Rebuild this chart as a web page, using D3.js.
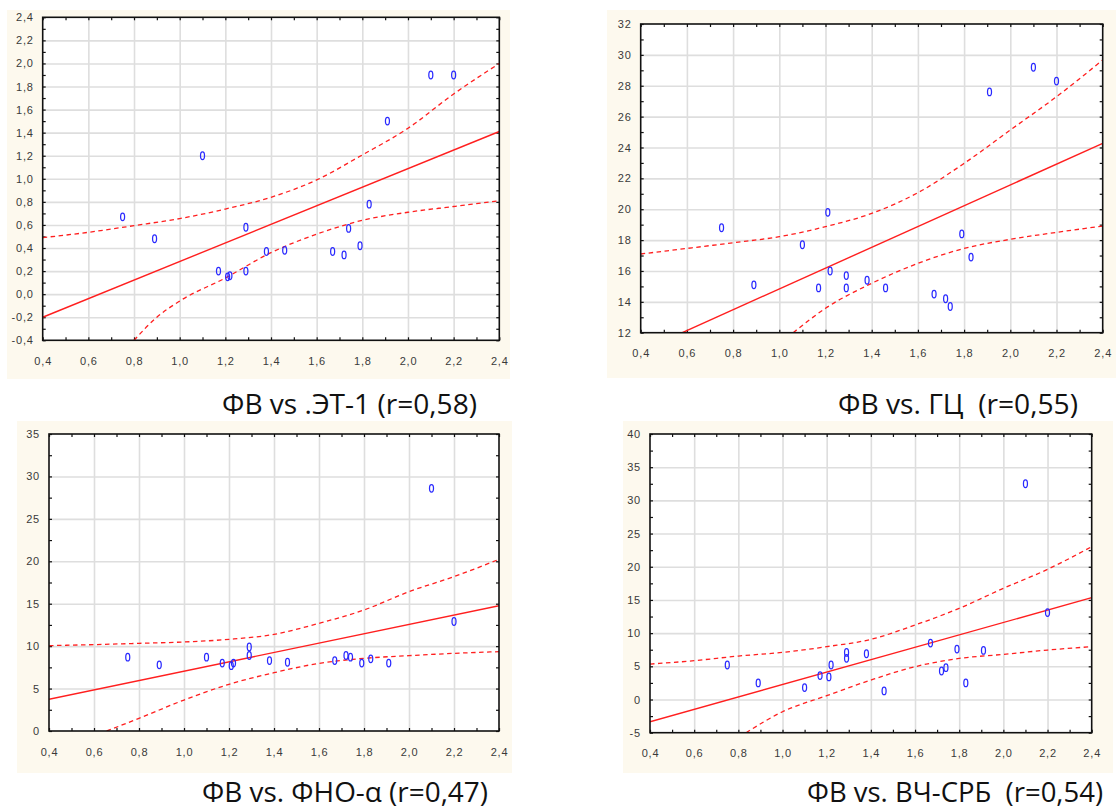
<!DOCTYPE html>
<html lang="ru">
  <head>
    <meta charset="UTF-8" />
    <title>ФВ correlations</title>
    <script src="https://cdn.jsdelivr.net/npm/d3@7"></script>
    <style>
      body {
        margin: 0;
        padding: 0;
        background: #fff;
      }
      .tick-label {
        font-family: "Liberation Sans Narrow", "Arial Narrow", "Liberation Sans", sans-serif;
        font-size: 11px;
        letter-spacing: 0.8px;
        fill: #3a3a3a;
      }
      .title {
        font-family: "Open Sans", "Noto Sans", sans-serif;
        font-size: 28px;
        fill: #111;
      }
    </style>
  </head>
  <body>
    <svg id="chart" width="1116" height="810"></svg>

    <script>
      // x values (ФВ) shared by all four panels
      const fvX = [0.75, 0.89, 1.10, 1.17, 1.21, 1.22, 1.29, 1.29, 1.38, 1.46, 1.67, 1.72, 1.74, 1.79, 1.83, 1.91, 2.10, 2.20];
      const fvTicks = [0.4, 0.6, 0.8, 1.0, 1.2, 1.4, 1.6, 1.8, 2.0, 2.2, 2.4];

      // panel 1: ЭТ-1
      const et1Y = [0.67, 0.48, 1.20, 0.20, 0.15, 0.16, 0.58, 0.20, 0.37, 0.38, 0.37, 0.34, 0.57, 0.42, 0.78, 1.50, 1.90, 1.90];
      const et1Ticks = [-0.4, -0.2, 0.0, 0.2, 0.4, 0.6, 0.8, 1.0, 1.2, 1.4, 1.6, 1.8, 2.0, 2.2, 2.4];
      const et1Fit = [-0.2, 1.41];
      const et1UpperX = [0.4, 0.6, 0.8, 1.0, 1.2, 1.4, 1.6, 1.8, 2.0, 2.2, 2.4];
      const et1Upper = [0.49, 0.536, 0.594, 0.655, 0.738, 0.84, 0.99, 1.207, 1.438, 1.735, 2.0];
      const et1LowerX = [0.8, 0.9, 1.0, 1.2, 1.4, 1.6, 1.8, 2.0, 2.2, 2.4];
      const et1Lower = [-0.4, -0.2, -0.06, 0.14, 0.36, 0.52, 0.64, 0.71, 0.76, 0.81];

      // panel 2: ГЦ
      const gcY = [18.8, 15.1, 17.7, 14.9, 19.8, 16.0, 15.7, 14.9, 15.4, 14.9, 14.5, 14.2, 13.7, 18.4, 16.9, 27.6, 29.2, 28.3];
      const gcTicks = [12, 14, 16, 18, 20, 22, 24, 26, 28, 30, 32];
      const gcFit = [10.79, 24.27];
      const gcUpperX = [0.4, 0.6, 0.8, 1.0, 1.2, 1.4, 1.6, 1.8, 2.0, 2.2, 2.4];
      const gcUpper = [17.1, 17.46, 17.83, 18.22, 18.87, 19.73, 21.07, 22.97, 25.13, 27.29, 29.67];
      const gcLowerX = [1.06, 1.2, 1.4, 1.6, 1.8, 2.0, 2.2, 2.4];
      const gcLower = [12.0, 13.58, 15.2, 16.49, 17.46, 18.05, 18.5, 18.91];

      // panel 3: ФНО-α
      const tnfY = [8.7, 7.8, 8.7, 8.0, 7.7, 8.0, 9.9, 8.9, 8.3, 8.1, 8.3, 8.9, 8.7, 8.0, 8.5, 8.0, 28.6, 12.9];
      const tnfTicks = [0, 5, 10, 15, 20, 25, 30, 35];
      const tnfFit = [3.74, 14.77];
      const tnfUpperX = [0.4, 0.6, 0.8, 1.0, 1.2, 1.4, 1.6, 1.8, 2.0, 2.2, 2.4];
      const tnfUpper = [10.06, 10.18, 10.33, 10.49, 10.8, 11.39, 12.69, 14.26, 16.42, 18.19, 20.23];
      const tnfLowerX = [0.656, 0.8, 1.0, 1.2, 1.4, 1.6, 1.8, 2.0, 2.2, 2.4];
      const tnfLower = [0.0, 1.49, 3.65, 5.5, 6.87, 7.97, 8.56, 8.88, 9.15, 9.35];

      // panel 4: ВЧ-СРБ
      const crpY = [5.2, 2.5, 1.8, 3.6, 3.4, 5.2, 7.1, 6.2, 6.9, 1.3, 8.5, 4.3, 4.8, 7.6, 2.5, 7.4, 32.5, 13.1];
      const crpTicks = [-5, 0, 5, 10, 15, 20, 25, 30, 35, 40];
      const crpFit = [-3.35, 15.34];
      const crpUpperX = [0.4, 0.6, 0.8, 1.0, 1.2, 1.4, 1.6, 1.8, 2.0, 2.2, 2.4];
      const crpUpper = [5.34, 5.85, 6.55, 7.1, 7.96, 9.06, 11.22, 13.73, 16.75, 19.61, 23.02];
      const crpLowerX = [0.835, 1.0, 1.2, 1.4, 1.6, 1.8, 2.0, 2.2, 2.4];
      const crpLower = [-5.0, -1.84, 0.57, 2.93, 4.94, 6.19, 6.8, 7.45, 7.96];

      const titles = ["ФВ vs .ЭТ-1 (r=0,58)", "ФВ vs. ГЦ  (r=0,55)", "ФВ vs. ФНО-α (r=0,47)", "ФВ vs. ВЧ-СРБ  (r=0,54)"];

      const panels = [
        { y: et1Y, ticks: et1Ticks, dec: 1, fit: et1Fit, ux: et1UpperX, u: et1Upper, lx: et1LowerX, l: et1Lower,
          bg: [7, 10, 510, 379], box: [42.7, 17.3, 499.3, 340.3], title: [222, 414, 255] },
        { y: gcY, ticks: gcTicks, dec: 0, fit: gcFit, ux: gcUpperX, u: gcUpper, lx: gcLowerX, l: gcLower,
          bg: [607, 10, 1116, 378], box: [640.7, 24, 1102.7, 332.7], title: [838, 414, 240] },
        { y: tnfY, ticks: tnfTicks, dec: 0, fit: tnfFit, ux: tnfUpperX, u: tnfUpper, lx: tnfLowerX, l: tnfLower,
          bg: [17, 421, 512, 773], box: [49, 434, 499, 731], title: [202, 802, 286] },
        { y: crpY, ticks: crpTicks, dec: 0, fit: crpFit, ux: crpUpperX, u: crpUpper, lx: crpLowerX, l: crpLower,
          bg: [623, 421, 1113, 773], box: [650, 434, 1091.7, 732.7], title: [807, 802, 296] },
      ];

      const svg = d3.select("#chart");
      const red = "#ff1f1f";

      function fmt(v, dec) {
        return v.toFixed(dec).replace(".", ",");
      }

      // minor ticks sit halfway between the major ones
      function withHalves(ticks) {
        const out = [];
        ticks.forEach((t, i) => {
          out.push(t);
          if (i < ticks.length - 1) out.push((t + ticks[i + 1]) / 2);
        });
        return out;
      }

      panels.forEach((p, i) => {
        const [l, t, r, b] = p.box;
        const g = svg.append("g");

        g.append("rect")
          .attr("x", p.bg[0])
          .attr("y", p.bg[1])
          .attr("width", p.bg[2] - p.bg[0])
          .attr("height", p.bg[3] - p.bg[1])
          .attr("fill", "#fdf9ee");

        g.append("rect")
          .attr("x", l).attr("y", t)
          .attr("width", r - l).attr("height", b - t)
          .attr("fill", "#fff");

        const x = d3.scaleLinear().domain([0.4, 2.4]).range([l, r]);
        const y = d3.scaleLinear()
          .domain([p.ticks[0], p.ticks[p.ticks.length - 1]])
          .range([b, t]);

        // grid
        g.append("g")
          .attr("transform", `translate(0,${b})`)
          .call(d3.axisBottom(x).tickValues(fvTicks.slice(1, -1)).tickSize(-(b - t)).tickFormat(""))
          .call((s) => s.select(".domain").remove())
          .selectAll("line").attr("stroke", "#dedede").attr("stroke-width", 1.6);
        g.append("g")
          .attr("transform", `translate(${l},0)`)
          .call(d3.axisLeft(y).tickValues(p.ticks.slice(1, -1)).tickSize(-(r - l)).tickFormat(""))
          .call((s) => s.select(".domain").remove())
          .selectAll("line").attr("stroke", "#dedede").attr("stroke-width", 1.6);

        // inward tick marks on all four sides
        const xMinor = withHalves(fvTicks);
        const yMinor = withHalves(p.ticks);
        const sides = [
          [d3.axisBottom(x).tickValues(xMinor), `translate(0,${b})`],
          [d3.axisTop(x).tickValues(xMinor), `translate(0,${t})`],
          [d3.axisLeft(y).tickValues(yMinor), `translate(${l},0)`],
          [d3.axisRight(y).tickValues(yMinor), `translate(${r},0)`],
        ];
        sides.forEach(([ax, tr]) => {
          g.append("g")
            .attr("transform", tr)
            .call(ax.tickSize(-3).tickFormat(""))
            .call((s) => s.select(".domain").remove())
            .selectAll("line").attr("stroke", "#111").attr("stroke-width", 1.2);
        });

        // labels
        g.append("g")
          .attr("transform", `translate(0,${b})`)
          .call(d3.axisBottom(x).tickValues(fvTicks).tickSize(0).tickPadding(17).tickFormat((d) => fmt(d, 1)))
          .call((s) => s.select(".domain").remove())
          .selectAll("text").attr("class", "tick-label").attr("font-family", null).attr("font-size", null).attr("fill", null);
        g.append("g")
          .attr("transform", `translate(${l},0)`)
          .call(d3.axisLeft(y).tickValues(p.ticks).tickSize(0).tickPadding(9).tickFormat((d) => fmt(d, p.dec)))
          .call((s) => s.select(".domain").remove())
          .selectAll("text").attr("class", "tick-label").attr("font-family", null).attr("font-size", null).attr("fill", null);

        // clipped fit line and confidence band
        const clipId = "clip" + i;
        g.append("clipPath").attr("id", clipId)
          .append("rect").attr("x", l).attr("y", t).attr("width", r - l).attr("height", b - t);
        const lines = g.append("g").attr("clip-path", `url(#${clipId})`);
        const line = d3.line().x((d) => x(d[0])).y((d) => y(d[1])).curve(d3.curveMonotoneX);

        lines.append("path")
          .attr("d", line([[0.4, p.fit[0]], [2.4, p.fit[1]]]))
          .attr("fill", "none").attr("stroke", red).attr("stroke-width", 1.4);
        [[p.ux, p.u], [p.lx, p.l]].forEach(([xs, ys]) => {
          lines.append("path")
            .attr("d", line(xs.map((v, k) => [v, ys[k]])))
            .attr("fill", "none").attr("stroke", red).attr("stroke-width", 1.3)
            .attr("stroke-dasharray", "4.5,3.5");
        });

        // frame
        g.append("rect")
          .attr("x", l).attr("y", t)
          .attr("width", r - l).attr("height", b - t)
          .attr("fill", "none").attr("stroke", "#111").attr("stroke-width", 1.6);

        // points
        g.selectAll("ellipse")
          .data(p.y)
          .enter()
          .append("ellipse")
          .attr("cx", (d, k) => x(fvX[k]))
          .attr("cy", (d) => y(d))
          .attr("rx", 2.0)
          .attr("ry", 3.8)
          .attr("fill", "none")
          .attr("stroke", "#2a2aff")
          .attr("stroke-width", 1.25);

        svg.append("text")
          .attr("class", "title")
          .attr("x", p.title[0])
          .attr("y", p.title[1])
          .attr("textLength", p.title[2])
          .attr("lengthAdjust", "spacingAndGlyphs")
          .attr("xml:space", "preserve")
          .style("white-space", "pre")
          .text(titles[i]);
      });
    </script>
  </body>
</html>
